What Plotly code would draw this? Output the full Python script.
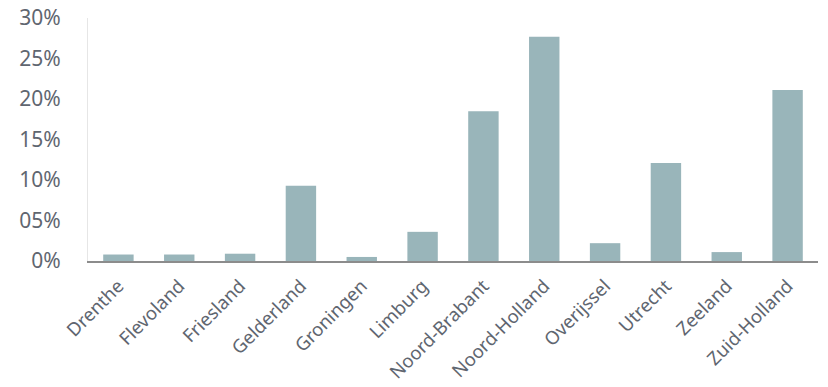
import plotly.graph_objects as go

# Share per province (%)
provinces = ["Drenthe", "Flevoland", "Friesland", "Gelderland", "Groningen", "Limburg",
             "Noord-Brabant", "Noord-Holland", "Overijssel", "Utrecht", "Zeeland", "Zuid-Holland"]
shares = [0.8, 0.8, 0.9, 9.3, 0.5, 3.6, 18.5, 27.7, 2.2, 12.1, 1.1, 21.1]

y_ticks = [0, 5, 10, 15, 20, 25, 30]
y_tick_labels = ["0%", "05%", "10%", "15%", "20%", "25%", "30%"]

fig = go.Figure(go.Bar(
    x=provinces,
    y=shares,
    marker=dict(color="#99b5ba", line=dict(width=0)),
    hoverinfo="skip",
))

fig.update_layout(
    width=828,
    height=387,
    margin=dict(l=88, r=10, t=18, b=126),
    paper_bgcolor="white",
    plot_bgcolor="white",
    bargap=0.5,
    showlegend=False,
    font=dict(family="Noto Sans, sans-serif", color="#5f6670"),
)

fig.update_xaxes(
    showline=True,
    linecolor="#8c8c8c",
    linewidth=2,
    showgrid=False,
    ticks="",
    tickangle=-45,
    automargin=False,
    ticklabelstandoff=5,
    tickfont=dict(size=18.5, color="#5f6670"),
)

fig.update_yaxes(
    range=[0, 30],
    tickvals=y_ticks,
    ticktext=y_tick_labels,
    showgrid=False,
    zeroline=False,
    showline=True,
    linecolor="#e6e6e6",
    linewidth=1,
    ticks="",
    automargin=False,
    ticklabelstandoff=22,
    tickfont=dict(size=21, color="#5f6670"),
)

fig.write_html("out.html")
